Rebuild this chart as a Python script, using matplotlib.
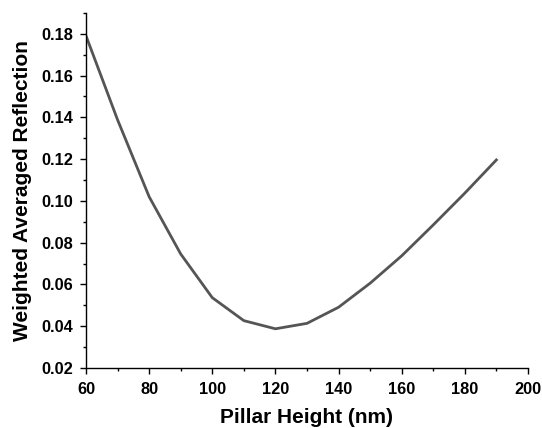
import matplotlib
matplotlib.use('Agg')
import matplotlib.pyplot as plt
from matplotlib.ticker import MultipleLocator

pillar_height = [60, 70, 80, 90, 100, 110, 120, 130, 140, 150, 160, 170, 180, 190]
reflection = [0.179, 0.1388, 0.102, 0.0746, 0.0537, 0.0427, 0.0388, 0.0414,
              0.0491, 0.0606, 0.0737, 0.0885, 0.1037, 0.1196]

plt.rcParams['font.family'] = ['Liberation Sans', 'DejaVu Sans']
plt.rcParams['font.weight'] = 'bold'

fig = plt.figure(figsize=(5.42, 4.28), dpi=100)
ax = fig.add_axes([0.1587, 0.140, 0.8153, 0.830])

ax.plot(pillar_height, reflection, color='#555555', linewidth=2.0)

ax.set_xlim(60, 200)
ax.set_ylim(0.02, 0.19)
ax.xaxis.set_major_locator(MultipleLocator(20))
ax.xaxis.set_minor_locator(MultipleLocator(10))
ax.yaxis.set_major_locator(MultipleLocator(0.02))
ax.yaxis.set_minor_locator(MultipleLocator(0.01))
ax.yaxis.set_major_formatter(plt.FormatStrFormatter('%.2f'))

for side in ('top', 'right'):
    ax.spines[side].set_visible(False)
for side in ('left', 'bottom'):
    ax.spines[side].set_linewidth(1.0)

ax.tick_params(which='major', direction='out', length=4.5, width=1.0, labelsize=11.8)
ax.tick_params(which='minor', direction='out', length=2.5, width=1.0)
ax.tick_params(axis='x', which='major', pad=5.5)
ax.tick_params(axis='y', which='major', pad=4.5)
for lbl in ax.get_xticklabels() + ax.get_yticklabels():
    lbl.set_fontweight('bold')

ax.set_xlabel('Pillar Height (nm)', fontsize=15, fontweight='bold', labelpad=8)
ax.set_ylabel('Weighted Averaged Reflection', fontsize=15, fontweight='bold', labelpad=7)

fig.savefig('out.png', dpi=100)
